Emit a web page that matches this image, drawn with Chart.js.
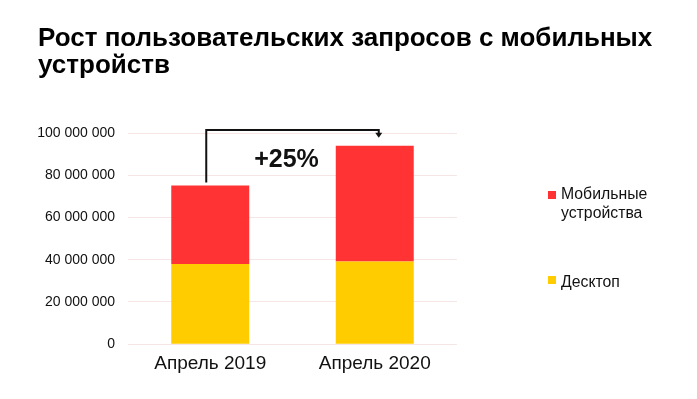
<!DOCTYPE html>
<html>
<head>
<meta charset="utf-8">
<script src="https://cdn.jsdelivr.net/npm/chart.js@4"></script>
<style>
  html, body { margin: 0; padding: 0; background: #fff; }
  #wrap { position: relative; width: 697px; height: 399px; overflow: hidden; }
  canvas { position: absolute; left: 0; top: 0; }
  .title { position: absolute; left: 38px; top: 23.5px; font-family: "Liberation Sans", Arial, sans-serif; font-weight: bold; font-size: 26px; line-height: 27px; color: #000; white-space: nowrap; }
  .leg { position: absolute; font-family: "Liberation Sans", Arial, sans-serif; font-size: 15.8px; color: #111; line-height: 19px; white-space: nowrap; }
  .sw { position: absolute; width: 8px; height: 8px; }
</style>
</head>
<body>
<div id="wrap">
  <canvas id="c" width="697" height="399"></canvas>
  <div class="title" id="title"></div>
  <div class="sw" style="left:548px;top:191px;background:#FF3333"></div>
  <div class="leg" id="leg1" style="left:561px;top:184px"></div>
  <div class="sw" style="left:548px;top:276px;background:#FFCC00"></div>
  <div class="leg" id="leg0" style="left:561px;top:271.5px"></div>
</div>
<script>
const categories = ["Апрель 2019", "Апрель 2020"];
const desktop = [38000000, 39200000];
const mobile = [37200000, 54800000];
const yTicks = [0, 20000000, 40000000, 60000000, 80000000, 100000000];
const seriesNames = ["Десктоп", "Мобильные устройства"];
const legendLines = [["Десктоп"], ["Мобильные", "устройства"]];
const growthLabel = "+25%";
const titleLines = ["Рост пользовательских запросов с мобильных", "устройств"];

document.getElementById("title").innerHTML = titleLines.join("<br>");
document.getElementById("leg0").innerHTML = legendLines[0].join("<br>");
document.getElementById("leg1").innerHTML = legendLines[1].join("<br>");

const fmt = v => String(v).replace(/\B(?=(\d{3})+(?!\d))/g, " ");

const arrowPlugin = {
  id: "growthArrow",
  afterDatasetsDraw(chart) {
    const ctx = chart.ctx;
    const x = chart.scales.x, y = chart.scales.y;
    const x1 = x.getPixelForValue(0) - 4;
    const x2 = x.getPixelForValue(1) + 4;
    const top = y.getPixelForValue(100000000) - 3;
    const start = y.getPixelForValue(desktop[0] + mobile[0]) - 3;
    const tip = y.getPixelForValue(desktop[1] + mobile[1]) - 8;
    ctx.save();
    ctx.strokeStyle = "#111";
    ctx.fillStyle = "#111";
    ctx.lineWidth = 2;
    ctx.beginPath();
    ctx.moveTo(x1, start);
    ctx.lineTo(x1, top);
    ctx.lineTo(x2, top);
    ctx.lineTo(x2, tip - 4);
    ctx.stroke();
    ctx.beginPath();
    ctx.moveTo(x2 - 3.5, tip - 5);
    ctx.lineTo(x2 + 3.5, tip - 5);
    ctx.lineTo(x2, tip);
    ctx.closePath();
    ctx.fill();
    ctx.font = "bold 25px 'Liberation Sans', Arial, sans-serif";
    ctx.textAlign = "center";
    ctx.textBaseline = "alphabetic";
    ctx.fillText(growthLabel, (x1 + x2) / 2 - 6, y.getPixelForValue(84000000));
    ctx.restore();
  }
};

new Chart(document.getElementById("c"), {
  type: "bar",
  data: {
    labels: categories,
    datasets: [
      { label: seriesNames[0], data: desktop, backgroundColor: "#FFCC00" },
      { label: seriesNames[1], data: mobile, backgroundColor: "#FF3333" }
    ]
  },
  options: {
    responsive: false,
    animation: false,
    layout: { padding: { left: 38, right: 240, top: 133, bottom: 24 } },
    datasets: { bar: { categoryPercentage: 1, barPercentage: 0.474 } },
    plugins: {
      legend: { display: false },
      tooltip: { enabled: false },
      title: { display: false }
    },
    scales: {
      x: {
        stacked: true,
        grid: { display: false },
        border: { display: false },
        ticks: { color: "#111", padding: 0, font: { family: "'Liberation Sans', Arial, sans-serif", size: 19 } }
      },
      y: {
        stacked: true,
        min: 0,
        max: 100000000,
        afterBuildTicks(scale) { scale.ticks = yTicks.map(v => ({ value: v })); },
        afterFit(scale) { scale.width = 90; },
        grid: { color: "#F6E6E6", lineWidth: 1, drawTicks: false },
        border: { display: false },
        ticks: { color: "#111", padding: 13, callback: v => fmt(v), font: { family: "'Liberation Sans', Arial, sans-serif", size: 14 } }
      }
    }
  },
  plugins: [arrowPlugin]
});
</script>
</body>
</html>
